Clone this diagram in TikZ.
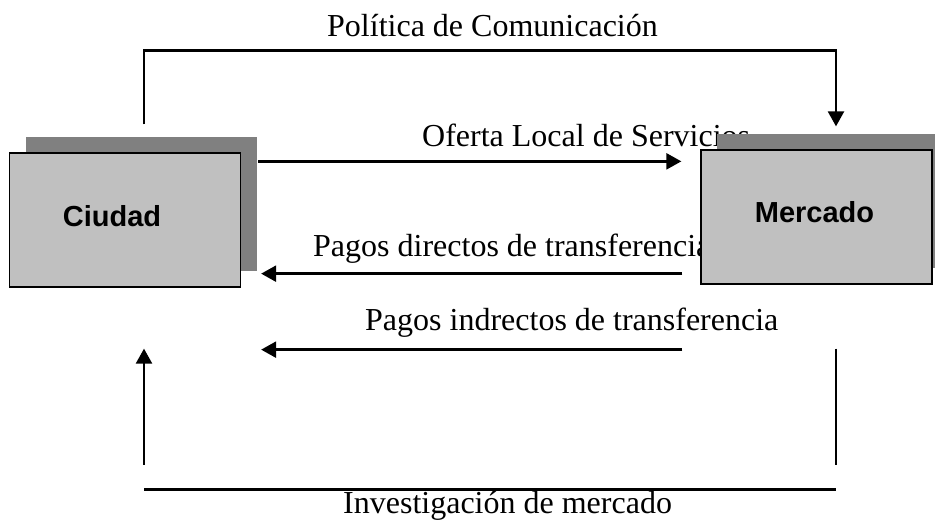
\documentclass[tikz,border=0pt]{standalone}
\usepackage{fontspec}
\setmainfont{Liberation Serif}
\newfontfamily\boxfont{Liberation Sans}
\usepackage{tikz}
\definecolor{boxgray}{RGB}{192, 192, 192}
\definecolor{shadowgray}{RGB}{128, 128, 128}
\usetikzlibrary{shapes,arrows.meta,positioning,calc,shadows}

\begin{document}
\begin{tikzpicture}[
    x=1pt, y=-1pt,
    every node/.style={align=center},
    flowlabel/.style={anchor=base west, inner sep=0pt, font=\fontsize{32}{38}\selectfont},
    boxtext/.style={inner sep=0pt, font=\boxfont\bfseries\fontsize{29}{34}\selectfont},
    agentbox/.style={rectangle, draw=black, line width=1.3pt, fill=boxgray, minimum width=231pt, minimum height=134pt,
        drop shadow={shadow xshift=16pt, shadow yshift=16pt, fill=shadowgray, opacity=1}},
    arrow/.style={-{Triangle[length=15pt,width=16pt]}, line width=2.4pt},
    line/.style={line width=2.4pt}
]
    \useasboundingbox (0,0) rectangle (935,520);

    % Flow labels
    \node[flowlabel] (politica-label) at (327,36) {Política de Comunicación};
    \node[flowlabel] (oferta-label) at (422,146) {Oferta Local de Servicios};
    \node[flowlabel] (directos-label) at (313,256) {Pagos directos de transferencia};
    \node[flowlabel] (indirectos-label) at (365,330) {Pagos indrectos de transferencia};
    \node[flowlabel] (investigacion-label) at (343,513) {Investigación de mercado};

    % Central boxes
    \node[agentbox, label={[boxtext, xshift=-13pt, yshift=4pt]center:Ciudad}] (ciudad) at (125,220) {};
    \node[agentbox, label={[boxtext, xshift=-2pt, yshift=5pt]center:Mercado}] (mercado) at (816.5,217) {};

    % Ciudad to Mercado
    \draw[arrow] ([xshift=19pt,yshift=28pt]ciudad.north) -- ++(0,-74) -| ([xshift=19.5pt,yshift=23pt]mercado.north);
    \draw[arrow] ([xshift=17pt,yshift=-9pt]ciudad.north east) -- ([xshift=-19pt,yshift=-12pt]mercado.north west);

    % Mercado to Ciudad
    \draw[arrow] ([xshift=-18pt,yshift=11pt]mercado.south west) -- ([xshift=20pt,yshift=14pt]ciudad.south east);
    \draw[arrow] ([xshift=-18pt,yshift=-65pt]mercado.south west) -- ([xshift=20pt,yshift=-62pt]ciudad.south east);

    % Investigacion de mercado
    \coordinate (inv-left) at ([xshift=19pt,yshift=-202pt]ciudad.south);
    \coordinate (inv-right) at ([xshift=19.5pt,yshift=-205pt]mercado.south);
    \draw[line] ([xshift=19.5pt,yshift=-64pt]mercado.south) -- ([xshift=19.5pt,yshift=-180pt]mercado.south);
    \draw[line] (inv-left) -- (inv-right);
    \draw[arrow] ([xshift=19pt,yshift=-177pt]ciudad.south) -- ([xshift=19pt,yshift=-61pt]ciudad.south);
\end{tikzpicture}
\end{document}
